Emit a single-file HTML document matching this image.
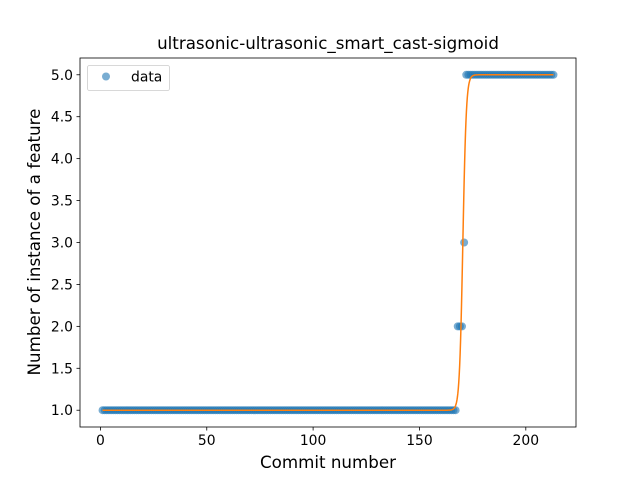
<!DOCTYPE html>
<html><head><meta charset="utf-8"><style>
html,body{margin:0;padding:0;background:#fff;}
svg{display:block;font-family:"DejaVu Sans","Liberation Sans",sans-serif;}
</style></head><body>
<svg id="chart" width="640" height="480"></svg>
<script>
// data
const onesRange = [1, 167];
const twosX = [168, 169, 170];
const threesX = [171];
const fivesRange = [172, 213];
const xTicks = [0, 50, 100, 150, 200];
const yTicks = [1.0, 1.5, 2.0, 2.5, 3.0, 3.5, 4.0, 4.5, 5.0];
const sigL = 4, sigK = 1.25, sigX0 = 170.4, sigB = 1;

const NS = "http://www.w3.org/2000/svg";
const svg = document.getElementById('chart');
const ax = {l:80, r:576, t:58, b:427};
const xmin = -9.6, xmax = 223.6, ymin = 0.8, ymax = 5.2;
const X = v => ax.l + (v - xmin) / (xmax - xmin) * (ax.r - ax.l);
const Y = v => ax.b - (v - ymin) / (ymax - ymin) * (ax.b - ax.t);
function mk(tag, attrs, parent){ const e = document.createElementNS(NS, tag); for (const k in attrs) e.setAttribute(k, attrs[k]); (parent||svg).appendChild(e); return e; }

const pts = [];
for (let x = onesRange[0]; x <= onesRange[1]; x++) pts.push([x, 1]);
twosX.forEach(x => pts.push([x, 2]));
threesX.forEach(x => pts.push([x, 3]));
for (let x = fivesRange[0]; x <= fivesRange[1]; x++) pts.push([x, 5]);

const gp = mk('g', {});


pts.forEach(p => {
  const c = mk('circle', {cx: X(p[0]), cy: Y(p[1]), r: 4, fill: '#1f77b4', 'fill-opacity': 0.6}, gp);
  
  
});

let d = '';
for (let i = 0; i <= 1000; i++) {
  const x = onesRange[0] + (fivesRange[1] - onesRange[0]) * i / 1000;
  const y = sigB + sigL / (1 + Math.exp(-sigK * (x - sigX0)));
  d += (i ? 'L' : 'M') + X(x).toFixed(2) + ',' + Y(y).toFixed(2);
}
const line = mk('path', {d: d, fill: 'none', stroke: '#ff7f0e', 'stroke-width': 1.5});



const frame = mk('rect', {x: ax.l, y: ax.t, width: ax.r - ax.l, height: ax.b - ax.t, fill: 'none', stroke: '#000', 'stroke-width': 0.8});



xTicks.forEach(v => {
  mk('line', {x1: X(v), x2: X(v), y1: ax.b, y2: ax.b + 3.5, stroke: '#000', 'stroke-width': 0.8});
  const t = mk('text', {x: X(v), y: ax.b + 18, 'text-anchor': 'middle', 'font-size': 13.9});
  t.textContent = v;
  
  
});
yTicks.forEach(v => {
  mk('line', {x1: ax.l - 3.5, x2: ax.l, y1: Y(v), y2: Y(v), stroke: '#000', 'stroke-width': 0.8});
  const t = mk('text', {x: ax.l - 7, y: Y(v) + 5, 'text-anchor': 'end', 'font-size': 13.9});
  t.textContent = v.toFixed(1);
  
  
});

const title = mk('text', {x: 328, y: 49, 'text-anchor': 'middle', 'font-size': 16.7});
title.textContent = 'ultrasonic-ultrasonic_smart_cast-sigmoid';


const xt = mk('text', {x: 328, y: 468, 'text-anchor': 'middle', 'font-size': 16.7});
xt.textContent = 'Commit number';


const yt = mk('text', {x: 0, y: 0, 'text-anchor': 'middle', 'font-size': 16.7, transform: 'translate(40,242) rotate(-90)'});
yt.textContent = 'Number of instance of a feature';



const lg = mk('g', {});


mk('rect', {x: 87.5, y: 65.5, width: 82, height: 25, rx: 2, fill: '#fff', 'fill-opacity': 0.8, stroke: '#ccc', 'stroke-width': 0.8}, lg);
const lm = mk('circle', {cx: 106, cy: 76.5, r: 4, fill: '#1f77b4', 'fill-opacity': 0.6}, lg);


const lt = mk('text', {x: 131, y: 81.5, 'font-size': 13.9}, lg);
lt.textContent = 'data';


</script>
</body></html>
